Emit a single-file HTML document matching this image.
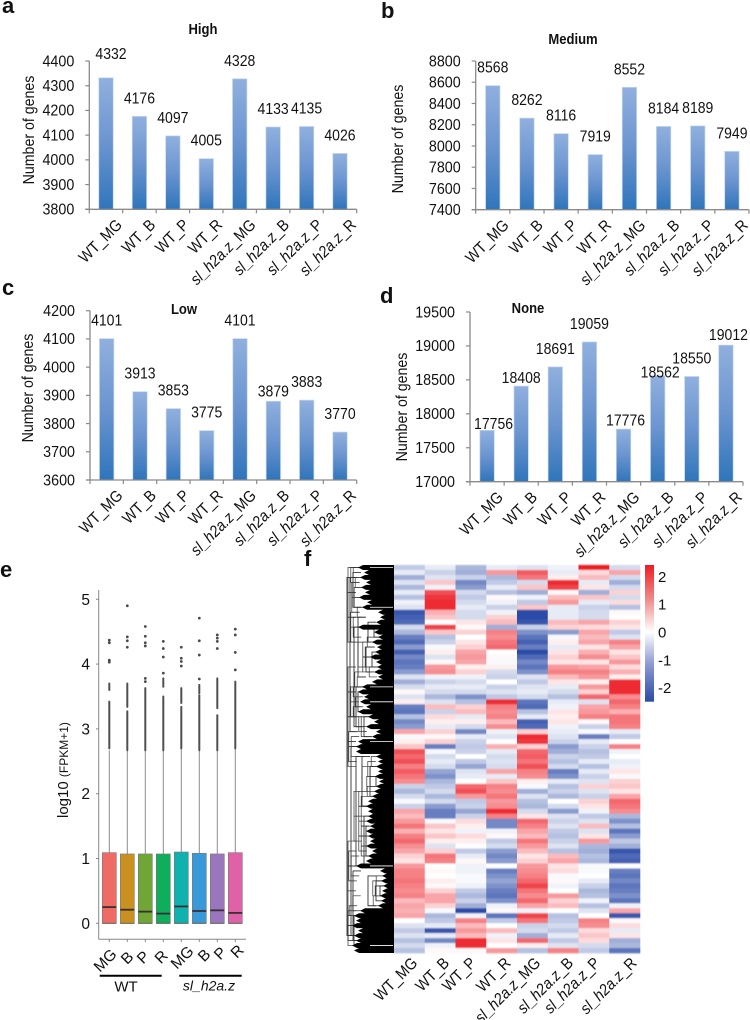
<!DOCTYPE html>
<html lang="en">
<head>
<meta charset="utf-8">
<title>Gene expression figure</title>
<style>
html,body{margin:0;padding:0;background:#fff;width:750px;height:1020px;overflow:hidden}
svg{display:block}
text{font-family:"Liberation Sans",sans-serif;fill:#111}
</style>
</head>
<body>
<svg id="fig" xmlns="http://www.w3.org/2000/svg" width="750" height="1020" viewBox="0 0 750 1020">
<defs>
<linearGradient id="barGrad" x1="0" y1="0" x2="0" y2="1"><stop offset="0" stop-color="#90b0de"/><stop offset="0.5" stop-color="#6b94d0"/><stop offset="1" stop-color="#2f75bb"/></linearGradient>
<linearGradient id="cbGrad" x1="0" y1="0" x2="0" y2="1"><stop offset="0" stop-color="#ed1c24"/><stop offset="0.25" stop-color="#f08a8a"/><stop offset="0.49" stop-color="#ffffff"/><stop offset="0.72" stop-color="#8f9bd4"/><stop offset="1" stop-color="#2a4ca5"/></linearGradient>
<filter id="soft" x="-2%" y="-2%" width="104%" height="104%"><feGaussianBlur stdDeviation="0.2 0.7"/></filter>
</defs>
</svg>
<script>
// ---- bar chart data ----
const categories = ['WT_MG','WT_B','WT_P','WT_R','sl_h2a.z_MG','sl_h2a.z_B','sl_h2a.z_P','sl_h2a.z_R'];
const highValues = [4332,4176,4097,4005,4328,4133,4135,4026];
const highTicks = [3800,3900,4000,4100,4200,4300,4400];
const mediumValues = [8568,8262,8116,7919,8552,8184,8189,7949];
const mediumTicks = [7400,7600,7800,8000,8200,8400,8600,8800];
const lowValues = [4101,3913,3853,3775,4101,3879,3883,3770];
const lowTicks = [3600,3700,3800,3900,4000,4100,4200];
const noneValues = [17756,18408,18691,19059,17776,18562,18550,19012];
const noneTicks = [17000,17500,18000,18500,19000,19500];

// ---- box plot data ----
const boxGroups = ['MG','B','P','R','MG','B','P','R'];
const boxQ1 = [0,0,0,0,0,0,0,0];
const boxMedian = [0.25,0.21,0.18,0.15,0.26,0.19,0.20,0.16];
const boxQ3 = [1.09,1.07,1.07,1.07,1.10,1.08,1.07,1.09];
const boxWhiskerHigh = [2.67,2.67,2.67,2.67,2.70,2.67,2.67,2.70];
const boxTicks = [0,1,2,3,4,5];
const outlierPoints = [
  [4.33,4.37,4.06,4.03],
  [4.9,4.42,4.36,4.26],
  [4.58,4.43,4.33,4.28,3.78,3.73],
  [4.35,4.24,4.11,3.86],
  [4.26,4.09,4.04,3.97],
  [4.71,4.36,4.14,3.77],
  [4.45,4.40,4.35,4.24],
  [4.54,4.45,4.18,3.91]
];
const outlierDense = [
  [[2.7,3.42],[3.6,3.7]],
  [[2.67,3.27],[3.34,3.7]],
  [[2.67,3.63]],
  [[2.67,3.5],[3.65,3.78]],
  [[2.7,3.34],[3.4,3.63]],
  [[2.67,3.52],[3.55,3.68]],
  [[2.67,3.21],[3.32,3.78]],
  [[2.7,3.73]]
];

// ---- heatmap data: z-score per row, one array per sample ----
const heatWtMg = [-.7,-.3,-1,-.4,-.9,-.3,-.8,-.2,-.4,-1.9,
 -1.8,-1.7,-.5,-.9,-1.5,-1.7,-1.2,-1.8,-1.4,-1.6,
 -1.5,-1.2,-.4,-1,-.5,.1,-.4,.2,-1.5,-1.6,
 -.8,-1.4,-1.2,.9,-.1,.2,.6,1.6,1.4,1.6,
 1.2,1.5,1.3,1.1,-.6,-.9,-.5,-.1,-.6,.9,
 .7,1,1.3,.8,1.2,1.4,1.1,.9,.5,.3,
 1,1.2,1.2,1.3,1.2,1.1,1.2,.7,.9,.8,
 .9,0,-.4,-.7,-.4,-.8,-.5,-.8];
const heatWtB = [-.3,-.6,-.4,.6,-.2,1.6,1.8,1.9,1.9,.8,
 .6,0,1.7,.6,-.8,-.6,-.1,.2,-.4,.1,
 1,1.1,-.2,-.6,-.3,-.5,-.9,-.4,.7,-.6,
 .4,.2,-.3,.5,.1,.5,-1.5,-.1,-.5,-.3,
 -.5,-1.1,-1.3,-.9,-.7,-.5,-.9,-.5,-1.2,-1.5,
 -1.5,-.1,.6,.3,.6,.2,-.4,.5,1.3,1.2,
 0,.1,0,.2,.1,.5,.9,.9,.5,-.1,
 -.9,-.7,-.3,-1.9,-.3,-1.4,-.2,.1];
const heatWtP = [-.9,-1,-.6,-1.4,-1.2,-.5,-.7,-.5,-.3,-.5,
 -.5,.3,.1,.5,0,.3,.5,.9,1,.9,
 .2,.5,-.2,-.5,-.3,-.5,-1.3,-.8,.5,.7,
 -.3,.2,-.5,-1.4,-.3,-.6,-.7,-.6,0,-.7,
 -1.1,-.4,-.3,0,1.4,1.6,1,-.7,-.6,-1.1,
 -.6,.4,.2,-.2,.4,.2,0,-.7,-.3,.1,
 -.2,-.2,-.1,-.1,-.2,-.7,-.9,-.6,-1,-2,
 -.2,1.2,.7,1,.7,1.9,1.9,.1];
const heatWtR = [-.3,1,-.9,-.7,-.3,-.8,.1,-.2,-.6,-.2,
 .5,.7,-1,1.2,1.1,1.3,1.4,0,.1,-.1,
 .2,-.5,-.6,0,-.6,-.4,-.7,1.9,1.2,1.1,
 1.2,.7,1.1,-.2,-.4,0,.8,-.3,-.5,-.4,
 -.5,.9,-.3,.6,1.2,1.1,1.3,1,1.1,1.9,
 1.2,-1.4,-1.4,-.2,.1,-.7,-.5,-1.2,-1.4,-1.2,
 0,-1.5,-1.3,-1.1,-1.3,-1.5,-1.6,-1.3,-.2,.1,
 -1.6,-.7,0,.7,-.2,.3,0,1];
const heatSlMg = [-.4,1.5,1.3,-.5,.6,-1,-.2,-.7,.6,-2,
 -2,-1.9,-.6,-1.3,-1.6,-1.8,-1.5,-2,-1.7,-1.4,
 -1.6,-1.3,-.4,-.7,-.4,-.3,-.5,-1.6,-1.7,-.8,
 -.3,-1.8,-1.7,.5,1.9,1.8,.5,1.4,1.5,1.3,
 1.6,1.2,1.1,.2,-.1,-1,-.4,-.8,-.9,-.5,
 .3,1.4,1.2,.9,.7,1.3,1,.7,.3,.5,
 1,1.1,1.2,1.4,1.7,1.3,1.1,1.4,.9,-.2,
 1.7,1.3,-.6,-.5,-1,1.4,.2,-.8];
const heatSlB = [-.2,-.3,.2,1.9,1.7,.1,.7,1,-.3,-.3,
 -.3,.7,.5,-1.2,-.1,.2,-.3,.3,.5,.3,
 1,1.2,.7,.3,-.3,-.5,-.8,-.3,-.2,.3,
 .2,.3,-.2,-.3,-.4,-.6,-1.2,-1,-.6,-.8,
 -.5,-1.5,-1.3,-.3,-.8,-.6,-.9,0,-.5,-1.2,
 -.4,-.6,-.4,-.7,-.8,-.6,-.4,-.8,.7,.9,
 .3,.4,-.1,.1,-.2,0,1,.5,.7,0,
 -.8,-.7,-.5,-.7,-.3,-.7,-.4,1.2];
const heatSlP = [2,.4,.7,-.3,.3,-1,.6,-.3,-.6,-.5,
 -.5,.9,.4,.9,.7,.9,.3,.8,1.1,.3,
 .9,1.2,1,.2,1,.5,1.4,-.4,.9,1,
 1.2,.1,-.6,-.1,-1.5,-.3,-.6,-.8,-.7,-.3,
 -.8,-.3,-.6,-.4,.5,-.4,-.6,.5,.3,-.2,
 -.7,-.4,.7,-.4,.3,1,-.9,-1,-.8,-.9,
 -.1,-.1,0,-.3,-.6,-.9,-.8,-.2,-.8,-.4,
 0,1.2,1.1,.4,.6,.4,-.5,-.7];
const heatSlR = [-.5,.9,-.5,-1,-.5,.5,-.5,.4,-.8,.1,
 0,.5,.3,-.7,-.4,1.2,.9,.3,.6,1,
 .4,.8,.2,1.9,1.9,1.9,1.1,1.4,1.2,.8,
 1.3,1.3,1.2,-.3,-.7,0,1.2,-.2,0,-.3,
 -.2,.3,-.1,.5,.6,.3,.9,1.4,1.3,1.1,
 -.9,-1.3,-.8,-1.6,-1.2,-.7,-1,-1.9,-1.7,-1.8,
 0,-1.5,-1.6,-1.4,-1.6,-1.5,-1.3,-1.6,-.2,.9,
 -1.9,.1,.4,-.3,.3,-1,-.9,-1.6];
const colorbarTicks = [2,1,0,-1,-2];

// ---- dendrogram data: leaf merge height per row, and cluster merges [firstRow,lastRow,height] ----
const dendroLeafHeights = [36,30,34,28,33,29,35,27,32,16,
 14,18,36,20,16,22,17,19,24,18,
 17,20,16,22,32,36,30,34,28,36,
 26,20,28,18,22,36,38,38,18,16,
 18,16,19,15,18,20,22,26,28,26,
 26,28,24,28,26,24,28,22,26,28,
 38,14,12,13,11,12,14,13,16,34,
 40,38,42,36,40,38,42,40];
const dendroMerges = [[2,74,47],[2,33,44],[36,74,43],[1,8,41],[12,32,40],[38,60,38],[61,75,41],
 [10,22,36],[24,32,38],[38,48,32],[50,60,30],[62,68,26],[70,76,40],[11,15,26],[16,21,28],
 [25,29,36],[30,34,30],[40,46,24],[52,58,28],[63,67,18],[64,66,14],[42,44,18],[12,14,20],[17,20,22]];
const dendroGapRows = [0,8,24,27,35,60,76];

const NS = 'http://www.w3.org/2000/svg';
const fig = document.getElementById('fig');
function mk(tag, parent){ const e = document.createElementNS(NS, tag); parent.appendChild(e); return e; }
function set(e, a){ for (const k in a) e.setAttribute(k, a[k]); return e; }
function squeeze(t, f){
  t.setAttribute('textLength', (t.getComputedTextLength()*f).toFixed(2));
  t.setAttribute('lengthAdjust', 'spacingAndGlyphs');
  return t;
}
function txt(parent, x, y, str, size, extra){
  const t = mk('text', parent);
  set(t, {x:x, y:y, 'font-size':size});
  if (extra) set(t, extra);
  t.textContent = str;
  return t;
}
function catLabel(parent, x, y, cat, size){
  const t = mk('text', parent);
  set(t, {'text-anchor':'end','font-size':size,transform:'translate('+x+','+y+') rotate(-45) scale(0.9,1)'});
  if (cat.indexOf('sl_h2a.z') === 0){
    const a = mk('tspan', t); a.setAttribute('font-style','italic'); a.textContent = 'sl_h2a.z';
    const b = mk('tspan', t); b.textContent = cat.slice(8);
  } else { t.textContent = cat; }
  return t;
}

function drawBarPanel(p){
  const g = mk('g', fig);
  
  
  const lo = p.ticks[0], hi = p.ticks[p.ticks.length-1];
  const yOf = v => p.bottom - (v-lo)/(hi-lo)*(p.bottom-p.top);
  const band = (p.right-p.left)/p.cats.length;
  const xOf = i => p.left + band*(i+0.5);

  p.values.forEach((v,i)=>{
    const r = mk('rect', g);
    set(r,{x:xOf(i)-7.2,y:yOf(v),width:14.4,height:p.bottom-yOf(v),fill:'url(#barGrad)',stroke:'#c4d6ee','stroke-width':0.7});
    
    
  });

  const yAxis = mk('line', g);
  set(yAxis,{x1:p.left,x2:p.left,y1:p.top,y2:p.bottom,stroke:'#8a8a8a','stroke-width':1.3});
  
  
  const xAxis = mk('line', g);
  set(xAxis,{x1:p.left-4,x2:p.right,y1:p.bottom,y2:p.bottom,stroke:'#8a8a8a','stroke-width':1.3});
  
  

  p.ticks.forEach(tv=>{
    const m = mk('line', g);
    set(m,{x1:p.left-4,x2:p.left,y1:yOf(tv),y2:yOf(tv),stroke:'#8a8a8a','stroke-width':1.2});
    
    
    const l = txt(g, p.left-15, yOf(tv)+5.3, String(tv), 15.8, {'text-anchor':'end'});
    squeeze(l, 0.905);
    
    
  });
  for (let i=0;i<=p.cats.length;i++){
    const m = mk('line', g);
    const tx = p.left+band*i;
    set(m,{x1:tx,x2:tx,y1:p.bottom,y2:p.bottom+4,stroke:'#8a8a8a','stroke-width':1.2});
    
    
  }
  p.cats.forEach((c,i)=>{
    const l = catLabel(g, xOf(i)+17, p.bottom+16.5, c, 16);
    
    
  });
  p.values.forEach((v,i)=>{
    const n = p.nudge[i] || [0,0];
    const l = txt(g, xOf(i)+n[0], yOf(v)-13+n[1], String(v), 15.5, {'text-anchor':'middle'});
    squeeze(l, 0.905);
    
    
  });
  const yt = txt(g, 0, 0, 'Number of genes', 15.5, {'text-anchor':'middle',transform:'translate('+p.ylabelX+','+p.ylabelY+') rotate(-90)'});
  squeeze(yt, 0.915);
  
  
  const tt = txt(g, p.titleX, p.titleY, p.title, 14.5, {'text-anchor':'middle','font-weight':'bold'});
  squeeze(tt, 0.9);
  
  
}

drawBarPanel({key:'high',title:'High',cats:categories,values:highValues,ticks:highTicks,left:89.3,right:356.7,top:61,bottom:209.3,
  ylabelX:34,ylabelY:130,titleX:203,titleY:34,nudge:{0:[5,-6]}});
drawBarPanel({key:'medium',title:'Medium',cats:categories,values:mediumValues,ticks:mediumTicks,left:475.7,right:749,top:61,bottom:209.7,
  ylabelX:403,ylabelY:139,titleX:573,titleY:44,nudge:{}});
drawBarPanel({key:'low',title:'Low',cats:categories,values:lowValues,ticks:lowTicks,left:90,right:356.7,top:310.7,bottom:480,
  ylabelX:33,ylabelY:388,titleX:184,titleY:314,nudge:{0:[0,0],5:[0,8]}});
drawBarPanel({key:'none',title:'None',cats:categories,values:noneValues,ticks:noneTicks,left:470,right:743,top:312,bottom:481.7,
  ylabelX:407,ylabelY:407,titleX:528,titleY:313,nudge:{0:[6.5,11.5],1:[0,10],4:[2,9.5],5:[2.5,15],7:[2.5,8]}});

// ---- box plot ----
(function(){
  const g = mk('g', fig);
  
  
  const yOf = v => 923.3 - 64.8*v;
  const xOf = i => 109.3 + 18*i;
  const boxColors = ['#ef6c64','#cb9120','#6fa635','#0fae5d','#0fb2ae','#3a99d8','#9a77bd','#df62a8'];
  boxGroups.forEach((name,i)=>{
    const w = mk('line', g);
    set(w,{x1:xOf(i),x2:xOf(i),y1:yOf(boxQ3[i]),y2:yOf(boxWhiskerHigh[i]),stroke:'#8c8c8c','stroke-width':1});
    
    
    outlierDense[i].forEach(rng=>{
      const d = mk('line', g);
      set(d,{x1:xOf(i),x2:xOf(i),y1:yOf(rng[0]),y2:yOf(rng[1]),stroke:'#505050','stroke-width':2,'stroke-linecap':'round'});
      
      
    });
    outlierPoints[i].forEach(v=>{
      const c = mk('circle', g);
      set(c,{cx:xOf(i),cy:yOf(v),r:1.4,fill:'#4a4a4a'});
      
      
    });
    const r = mk('rect', g);
    set(r,{x:xOf(i)-7,y:yOf(boxQ3[i]),width:14,height:yOf(boxQ1[i])-yOf(boxQ3[i]),fill:boxColors[i],stroke:'#777','stroke-width':0.6});
    
    
    const m = mk('line', g);
    set(m,{x1:xOf(i)-7,x2:xOf(i)+7,y1:yOf(boxMedian[i]),y2:yOf(boxMedian[i]),stroke:'#3a2f33','stroke-width':1.8});
    
    
    const q = mk('line', g);
    set(q,{x1:xOf(i)-7,x2:xOf(i)+7,y1:yOf(boxQ1[i]),y2:yOf(boxQ1[i]),stroke:'#554','stroke-width':0.9});
    
    
    const tk = mk('line', g);
    set(tk,{x1:xOf(i),x2:xOf(i),y1:939.3,y2:942,stroke:'#888','stroke-width':1});
    
    
    const offs = [-2,2,0,0,3,7,5,4];
    const l = txt(g, 0, 0, name, 15.5, {'text-anchor':'middle',transform:'translate('+(xOf(i)+offs[i]+1.5)+','+(961-(i>=4?(i-4)*2:0)+(i<4?(i===0?3:1-i*.5):0))+') rotate(-45)'});
    
    
  });
  const ya = mk('line', g);
  set(ya,{x1:98.7,x2:98.7,y1:590,y2:939.3,stroke:'#888','stroke-width':1});
  
  
  const xa = mk('line', g);
  set(xa,{x1:98.7,x2:246,y1:939.3,y2:939.3,stroke:'#888','stroke-width':1});
  
  
  boxTicks.forEach(v=>{
    const t = mk('line', g);
    set(t,{x1:96,x2:98.7,y1:yOf(v),y2:yOf(v),stroke:'#888','stroke-width':1});
    
    
    const l = txt(g, 90, yOf(v)+5.5, String(v), 15.5, {'text-anchor':'end'});
    
    
  });
  const yl = mk('text', g);
  set(yl,{transform:'translate(68,818) rotate(-90)','font-size':15});
  const s1 = mk('tspan', yl); s1.textContent = 'log10 ';
  const s2 = mk('tspan', yl); s2.setAttribute('font-size','12'); s2.textContent = '(FPKM+1)';
  
  
  const u1 = mk('line', g);
  set(u1,{x1:99.7,x2:161.7,y1:975.7,y2:975.7,stroke:'#000','stroke-width':2});
  
  
  const u2 = mk('line', g);
  set(u2,{x1:179.3,x2:241.7,y1:975.7,y2:975.7,stroke:'#000','stroke-width':2});
  
  
  const gl1 = txt(g, 126, 991.7, 'WT', 15, {'text-anchor':'middle'});
  
  
  const gl2 = txt(g, 209, 990.7, 'sl_h2a.z', 14, {'text-anchor':'middle','font-style':'italic'});
  
  
})();

// ---- heatmap ----
(function(){
  const g = mk('g', fig);
  
  
  const hm = mk('g', g);
  hm.setAttribute('filter', 'url(#soft)');
  
  
  const cols = [heatWtMg,heatWtB,heatWtP,heatWtR,heatSlMg,heatSlB,heatSlP,heatSlR];
  const hx0 = 394, hx1 = 640, hy0 = 565, hy1 = 953;
  const nRows = heatWtMg.length;
  const cw = (hx1-hx0)/cols.length, rh = (hy1-hy0)/nRows;
  const mix = (a,b,t)=>a.map((c,i)=>Math.round(c+(b[i]-c)*t));
  function color(v){
    const t = Math.pow(Math.min(Math.abs(v)/2,1),1.15);
    const c = v>=0 ? mix([255,255,255],[237,28,36],t) : mix([255,255,255],[44,76,168],t);
    return 'rgb('+c.join(',')+')';
  }
  cols.forEach((col,ci)=>{
    col.forEach((v,ri)=>{
      const r = mk('rect', hm);
      set(r,{x:hx0+ci*cw,y:hy0+ri*rh,width:cw+0.3,height:rh+0.3,fill:color(v)});
      
      
    });
  });
  const nudges = [6,7,3,7,6,8,4,10];
  categories.forEach((c,i)=>{
    const l = catLabel(g, hx0+cw*(i+.5)+nudges[i]+3, 964, c, 16);
    
    
  });

  // dendrogram
  const dg = mk('g', fig);
  
  
  const xOfH = h => hx0 - h;
  const yOfRow = r => hy0 + (r+.5)*rh;
  const maxH = 46;
  function bracket(r0, r1, h, sw){
    const p = mk('path', dg);
    const xm = xOfH(h);
    const stub = xOfH(Math.max(h-8,0));
    p.setAttribute('d','M'+stub+' '+yOfRow(r0)+'H'+xm+'V'+yOfRow(r1)+'H'+stub);
    set(p,{fill:'none',stroke:'#333','stroke-width':sw});
    
    
  }
  dendroMerges.forEach(m=>bracket(m[0],m[1],m[2],0.9));
  // fine sub-branches derived from the leaf heights
  [2,3,5].forEach(step=>{
    for (let r=0;r+step<dendroLeafHeights.length;r+=step){
      let top = 0;
      for (let k=r;k<=r+step;k++) top = Math.max(top,dendroLeafHeights[k]);
      bracket(r, r+step, Math.min(top+step*2.4,maxH), 0.7);
    }
  });
  let pts = hx0+','+hy0;
  dendroLeafHeights.forEach((h,r)=>{
    const ytop = hy0+r*rh, ybot = ytop+rh;
    const tip = xOfH(h);
    pts += ' '+(tip+5)+','+ytop+' '+tip+','+(ytop+rh/2)+' '+(tip+5)+','+ybot;
  });
  pts += ' '+hx0+','+hy1;
  const mass = mk('polygon', dg);
  set(mass,{points:pts,fill:'#000'});
  
  
  dendroGapRows.forEach(r=>{
    const l = mk('line', dg);
    set(l,{x1:hx0-24,x2:hx0-1,y1:yOfRow(r),y2:yOfRow(r),stroke:'#fff','stroke-width':0.8});
    
    
  });

  // colour bar
  const cb = mk('g', fig);
  
  
  const bar = mk('rect', cb);
  set(bar,{x:645,y:565,width:9,height:136.7,fill:'url(#cbGrad)'});
  
  
  colorbarTicks.forEach(v=>{
    const l = txt(cb, 658, 632.5-27.8*v+5, String(v), 15);
    
    
  });
})();

// ---- panel letters ----
const panelLetters = ['a','b','c','d','e','f'];
const panelLetterX = [2,381,2,380,0,304];
const panelLetterY = [13,18,295,303,577,566];
panelLetters.forEach((ch,i)=>{
  const t = txt(fig, panelLetterX[i], panelLetterY[i], ch, 22, {'font-weight':'bold',fill:'#000'});
  
  
});
</script>
</body>
</html>
